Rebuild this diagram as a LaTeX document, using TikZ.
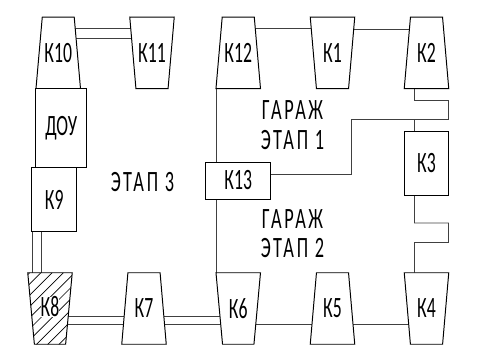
\documentclass[tikz,border=0pt]{standalone}
\usepackage{fontspec}
\setmainfont{Carlito}
\newfontfamily\gostfont[FakeStretch=0.6]{Carlito}
\newfontfamily\gostwide[FakeStretch=0.62,LetterSpace=9]{Carlito}
\usetikzlibrary{shapes.geometric,backgrounds}

\begin{document}
\begin{tikzpicture}[
  font=\gostfont\fontsize{21}{22}\selectfont,
  line width=0.7pt,
  wagon/.style={draw=black, fill=white, trapezium, trapezium left angle=72, trapezium right angle=72,
    trapezium stretches body=true, minimum width=1.1125cm, minimum height=1.7875cm, inner sep=0pt, outer sep=0pt},
  wagonflip/.style={wagon, shape border rotate=180},
  cabin/.style={draw=black, fill=white, inner sep=0pt, outer sep=0pt},
  zonelabel/.style={font=\gostwide\fontsize{21}{22}\selectfont, inner sep=0pt},
  link/.style={draw=black!75}
]
\useasboundingbox (0,0) rectangle (12.35,8.625);

% top row
\node[wagon] (k10) at (1.456,7.306) {К10};
\node[wagonflip] (k11) at (3.8,7.306) {К11};
\node[wagon] (k12) at (5.956,7.306) {К12};
\node[wagonflip] (k1) at (8.3125,7.306) {К1};
\node[wagon] (k2) at (10.6625,7.306) {К2};

% bottom row
\node[wagonflip] (k8) at (1.25,0.9125) {\phantom{К8}};
\begin{scope}
\clip (k8.top left corner) -- (k8.top right corner) -- (k8.bottom right corner) -- (k8.bottom left corner) -- cycle;
\foreach \hatch in {-1.4,-1.12,...,1.4}
  \draw[line width=0.5pt] ([xshift=\hatch cm-1.2cm,yshift=-1.2cm]k8.center) -- ([xshift=\hatch cm+1.2cm,yshift=1.2cm]k8.center);
\end{scope}
\node[fill=white, inner sep=0pt] (k8text) at (1.25,0.95) {К8};
\node[wagon] (k7) at (3.6,0.9125) {К7};
\node[wagonflip] (k6) at (5.956,0.9125) {К6};
\node[wagon] (k5) at (8.3125,0.9125) {К5};
\node[wagonflip] (k4) at (10.6625,0.9125) {К4};

% rectangles
\node[cabin, minimum width=1.2625cm, minimum height=1.975cm] (dou) at (1.531,5.425) {ДОУ};
\node[cabin, minimum width=1.1125cm, minimum height=1.6cm] (k9) at (1.356,3.6375) {К9};
\node[cabin, minimum width=1.1125cm, minimum height=1.6cm] (k3) at (10.6625,4.55) {К3};
\node[cabin, minimum width=1.6125cm, minimum height=0.925cm] (k13) at (5.956,4.1125) {К13};

% labels
\node[zonelabel] (stage3) at (3.5625,4.075) {ЭТАП 3};
\node[zonelabel] (garage1) at (7.3125,5.863) {ГАРАЖ};
\node[zonelabel] (stage1) at (7.3125,5.1125) {ЭТАП 1};
\node[zonelabel] (garage2) at (7.3125,3.15) {ГАРАЖ};
\node[zonelabel] (stage2) at (7.3125,2.425) {ЭТАП 2};

\coordinate (bendtop) at (11.2125,5.6375);
\coordinate (bendmid) at (8.79,5.6375);
\coordinate (bendlow) at (11.2125,2.5625);

\begin{scope}[on background layer]
\draw[link] ([yshift=0.606cm]k10.center) -- ([yshift=0.606cm]k11.center);
\draw[link] ([yshift=0.369cm]k10.center) -- ([yshift=0.369cm]k11.center);
\draw[link] ([yshift=0.606cm]k12.center) -- ([yshift=0.606cm]k1.center);
\draw[link] ([yshift=0.581cm]k1.center) -- ([yshift=0.581cm]k2.center);

\draw[link] ([yshift=-0.1875cm]k8.center) -- ([yshift=-0.1875cm]k7.center);
\draw[link] ([yshift=-0.4cm]k8.center) -- ([yshift=-0.4cm]k7.center);
\draw[link] ([yshift=-0.1875cm]k7.center) -- ([yshift=-0.1875cm]k6.center);
\draw[link] ([yshift=-0.4cm]k7.center) -- ([yshift=-0.4cm]k6.center);
\draw[link] ([yshift=-0.4cm]k6.center) -- ([yshift=-0.4cm]k5.center);
\draw[link] ([yshift=-0.4cm]k5.center) -- ([yshift=-0.4cm]k4.center);

\draw[link] (k9.south west) -- (k9.south west |- k8.north);
\draw[link] ([xshift=0.225cm]k9.south west) -- ([xshift=0.225cm]k9.south west |- k8.north);
\draw[link] (k12.bottom left corner) -- (k12.bottom left corner |- k13.north);
\draw[link] (k12.bottom left corner |- k13.south) -- (k12.bottom left corner |- k6.north);

% riser on the right
\draw[link] ([xshift=-0.3cm]k2.south) -- ++(0,-0.2875) -| (bendtop) -- (bendmid) |- ([yshift=0.145cm]k13.east);
\draw[link] ([xshift=-0.3cm]k3.north) -- ([xshift=-0.3cm]k3.north |- bendtop);
\draw[link] ([xshift=-0.3cm]k3.south) -- ++(0,-0.7) -| (bendlow) -- ([xshift=-0.3cm]k3.south |- bendlow) -- ([xshift=-0.3cm]k4.north);
\end{scope}
\end{tikzpicture}
\end{document}
